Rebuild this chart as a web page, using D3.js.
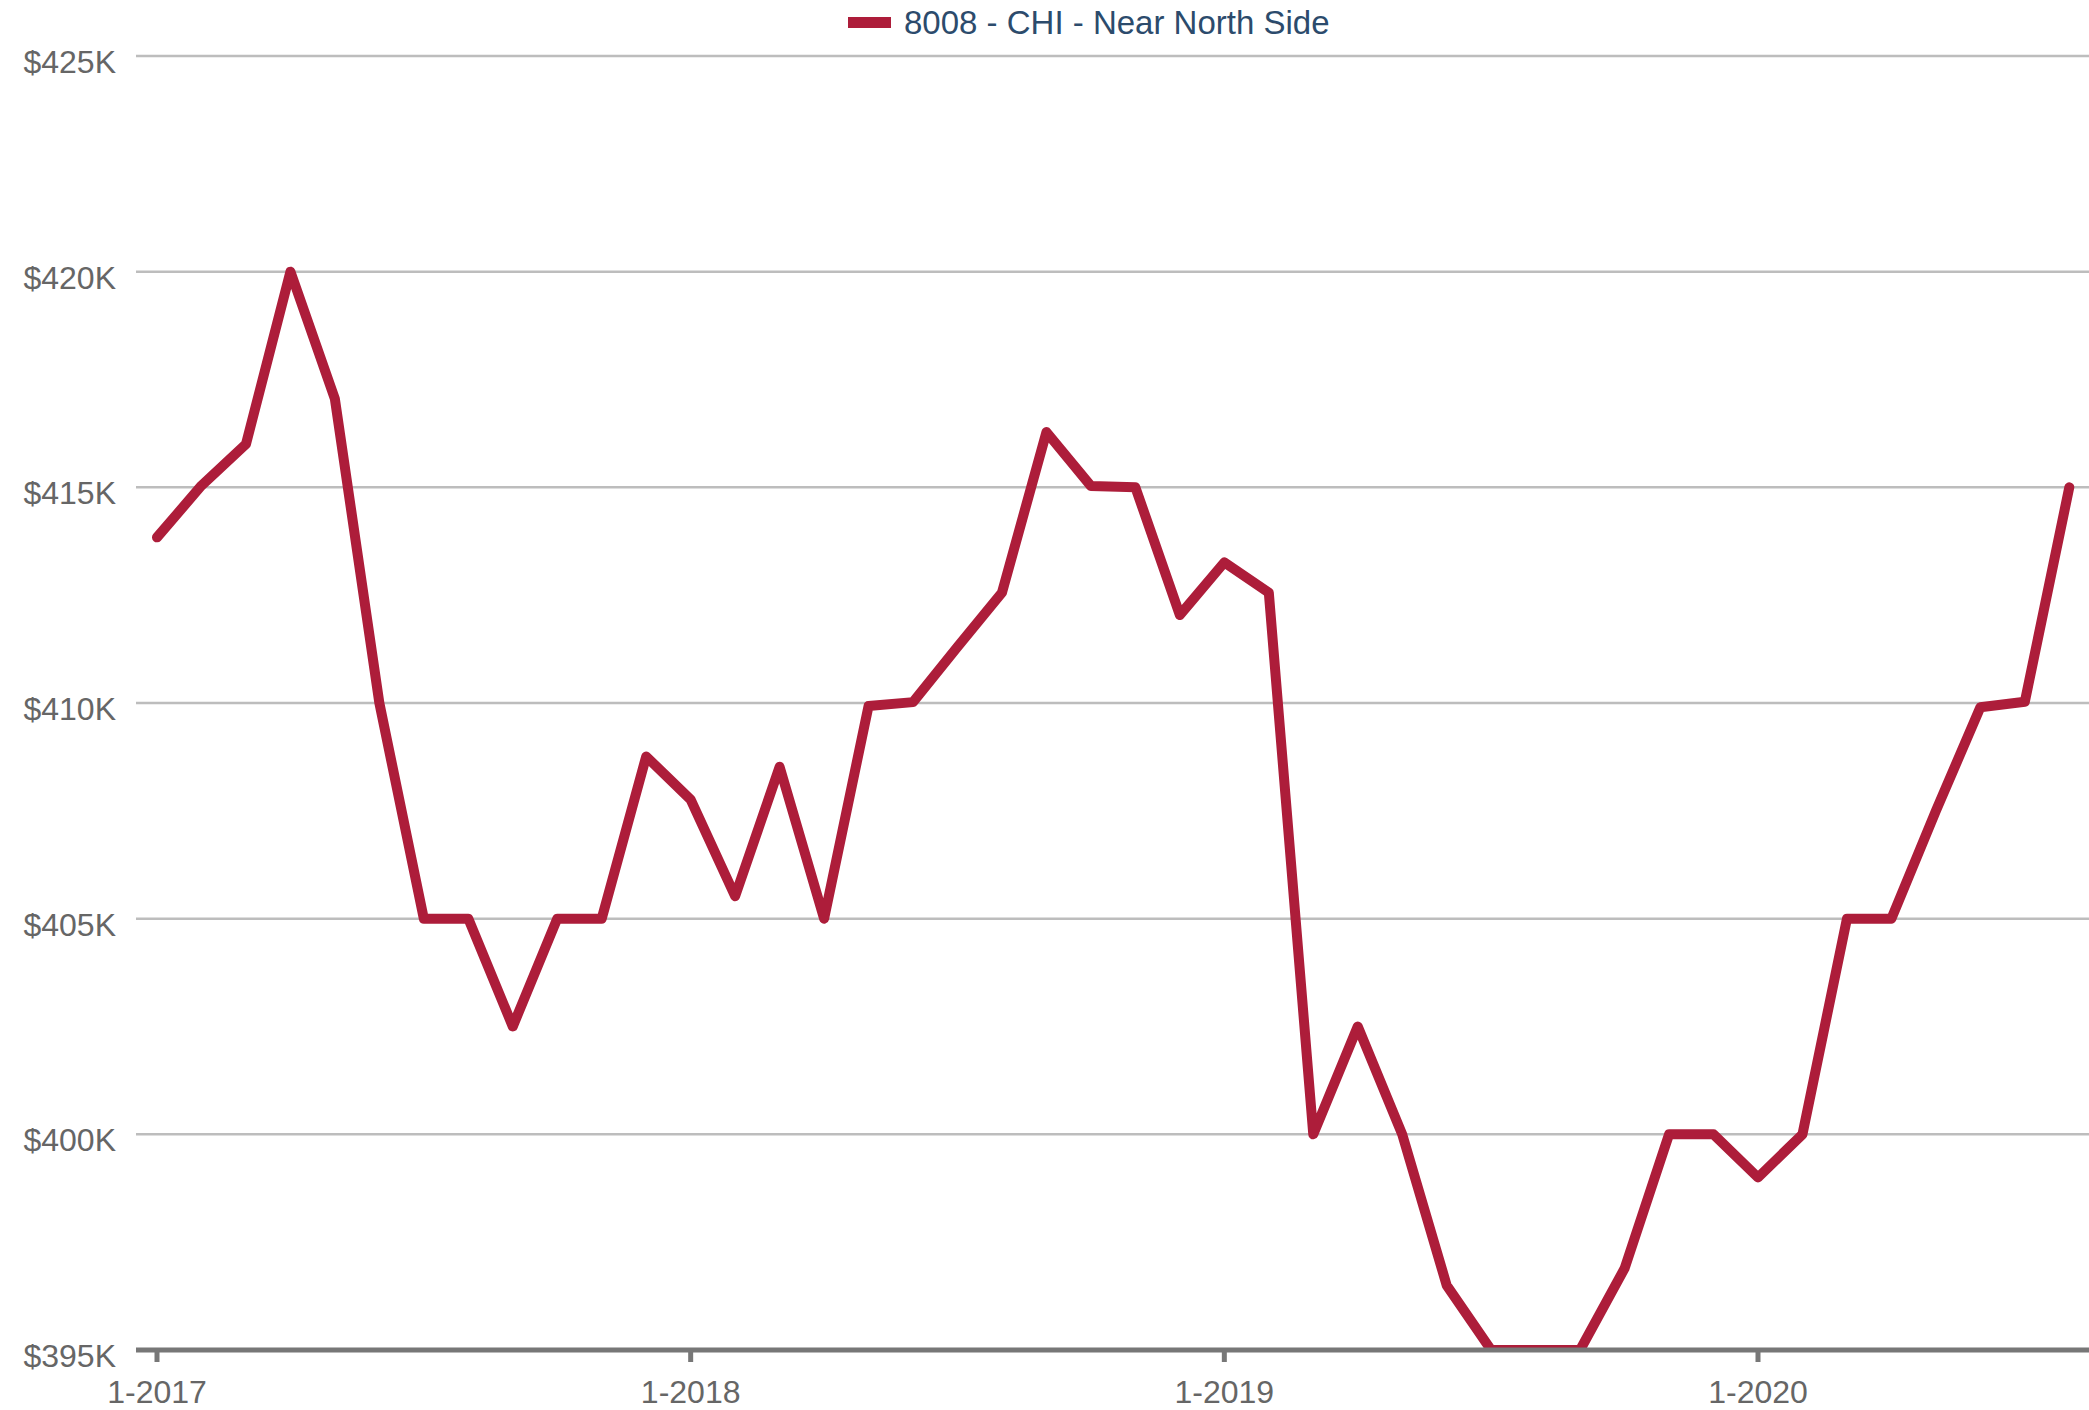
<!DOCTYPE html>
<html>
<head>
<meta charset="utf-8">
<script src="https://cdn.jsdelivr.net/npm/d3@7"></script>
<style>
  html, body { margin: 0; padding: 0; background: #ffffff; }
  svg { display: block; }
  text { font-family: "Liberation Sans", Arial, Helvetica, sans-serif; }
</style>
</head>
<body>
<svg id="chart" width="2089" height="1410"></svg>
<script>
// ---- data ----
const seriesName = "8008 - CHI - Near North Side";
const months = d3.range(44); // Jan 2017 .. Aug 2020 (month index)
const values = [
  413.84, 415.04, 416.0, 420.0, 417.05, 410.0, 405.0, 405.0, 402.5, 405.0, 405.0, 408.76,
  407.76, 405.52, 408.52, 405.0, 409.93, 410.02, 411.3, 412.56, 416.28, 415.03, 415.0, 412.04,
  413.26, 412.56, 400.0, 402.5, 400.0, 396.5, 395.0, 395.0, 395.0, 396.89, 400.0, 400.0,
  399.0, 400.0, 405.0, 405.0, 407.5, 409.9, 410.03, 415.0
];
const yTicks = [395, 400, 405, 410, 415, 420, 425];
const xTickIdx = [0, 12, 24, 36];
const xTickLabels = ["1-2017", "1-2018", "1-2019", "1-2020"];

// ---- layout ----
const W = 2089, H = 1410;
const plotLeft = 136, plotRight = 2089;
const yBottom = 1350, yTop = 56;

const svg = d3.select("#chart");

const x = d3.scaleLinear().domain([0, 36]).range([157, 1758]);
const y = d3.scaleLinear().domain([395, 425]).range([yBottom, yTop]);

// gridlines
svg.append("g").selectAll("line")
  .data(yTicks.filter(v => v !== 395))
  .join("line")
  .attr("x1", plotLeft).attr("x2", plotRight)
  .attr("y1", d => y(d)).attr("y2", d => y(d))
  .attr("stroke", "#bdbdbd").attr("stroke-width", 2.5);

// y labels
svg.append("g").selectAll("text")
  .data(yTicks)
  .join("text")
  .attr("x", 116)
  .attr("y", d => y(d) + 17)
  .attr("text-anchor", "end")
  .attr("font-size", 32)
  .attr("fill", "#666666")
  .text(d => "$" + d + "K");

// clip
svg.append("defs").append("clipPath").attr("id", "plotclip")
  .append("rect").attr("x", 0).attr("y", 0).attr("width", W).attr("height", yBottom - 2);

// line
const line = d3.line()
  .x((d, i) => x(months[i]))
  .y(d => y(d));

svg.append("path")
  .datum(values)
  .attr("clip-path", "url(#plotclip)")
  .attr("fill", "none")
  .attr("stroke", "#ad1d3a")
  .attr("stroke-width", 10)
  .attr("stroke-linejoin", "round")
  .attr("stroke-linecap", "round")
  .attr("d", line);

// x axis baseline
svg.append("line")
  .attr("x1", plotLeft).attr("x2", plotRight)
  .attr("y1", yBottom).attr("y2", yBottom)
  .attr("stroke", "#777777").attr("stroke-width", 5);

// x ticks
svg.append("g").selectAll("line")
  .data(xTickIdx)
  .join("line")
  .attr("x1", d => x(d)).attr("x2", d => x(d))
  .attr("y1", yBottom).attr("y2", yBottom + 12)
  .attr("stroke", "#777777").attr("stroke-width", 5);

svg.append("g").selectAll("text")
  .data(xTickIdx)
  .join("text")
  .attr("x", d => x(d))
  .attr("y", yBottom + 53)
  .attr("text-anchor", "middle")
  .attr("font-size", 32)
  .attr("fill", "#666666")
  .text((d, i) => xTickLabels[i]);

// legend
const lg = svg.append("g");
lg.append("rect")
  .attr("x", 848).attr("y", 17).attr("width", 43).attr("height", 11)
  .attr("fill", "#ad1d3a");
lg.append("text")
  .attr("x", 904).attr("y", 34)
  .attr("font-size", 33)
  .attr("fill", "#2c4b6c")
  .text(seriesName);
</script>
</body>
</html>
